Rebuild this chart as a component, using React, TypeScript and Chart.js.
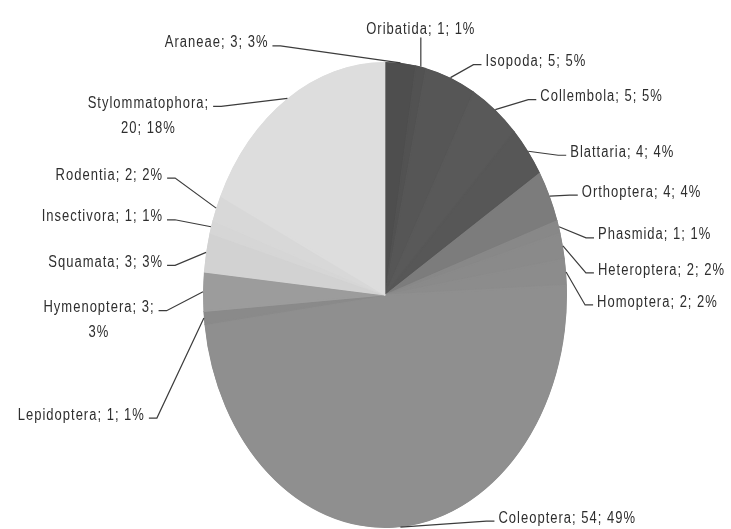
import React, { useEffect, useRef } from "react";
import { Chart, registerables } from "chart.js";

Chart.register(...registerables);

// ---- data ----
const categories = [
  "Araneae", "Oribatida", "Isopoda", "Collembola", "Blattaria", "Orthoptera",
  "Phasmida", "Heteroptera", "Homoptera", "Coleoptera", "Lepidoptera",
  "Hymenoptera", "Squamata", "Insectivora", "Rodentia", "Stylommatophora",
];
const counts = [3, 1, 5, 5, 4, 4, 1, 2, 2, 54, 1, 3, 3, 1, 2, 20];

// ---- styles ----
const sliceColors = [
  "#4e4e4e", "#525252", "#565656", "#595959", "#575757", "#7c7c7c",
  "#888888", "#8a8a8a", "#8c8c8c", "#8f8f8f", "#8a8a8a",
  "#9c9c9c", "#d2d2d2", "#d6d6d6", "#d8d8d8", "#dddddd",
];

// label placement relative to each slice's outer midpoint (page pixels)
const labelLayout: { dx: number; dy: number; align: CanvasTextAlign; wrap?: number }[] = [
  { dx: -132, dy: -20, align: "right" },
  { dx: 0, dy: -37, align: "center" },
  { dx: 35, dy: -16, align: "left" },
  { dx: 45, dy: -13, align: "left" },
  { dx: 42, dy: 1, align: "left" },
  { dx: 32, dy: -4, align: "left" },
  { dx: 39, dy: 8, align: "left" },
  { dx: 35, dy: 24, align: "left" },
  { dx: 31, dy: 30, align: "left" },
  { dx: 98, dy: -9, align: "left" },
  { dx: -59, dy: 97, align: "right" },
  { dx: -104, dy: 16, align: "center", wrap: 2 },
  { dx: -43, dy: 10, align: "right" },
  { dx: -48, dy: -10, align: "right" },
  { dx: -53, dy: -33, align: "right" },
  { dx: -139, dy: 5, align: "center", wrap: 1 },
];

const STRETCH = 1.28; // vertical stretch of the picture
const LINE_GAP = 25;

const total = counts.reduce((a, b) => a + b, 0);

const stretchPlugin = {
  id: "stretchPie",
  beforeDatasetsDraw(chart: any) {
    const el = chart.getDatasetMeta(0).data[0];
    const ctx = chart.ctx;
    ctx.save();
    ctx.translate(0, el.y);
    ctx.scale(1, STRETCH);
    ctx.translate(0, -el.y);
  },
  afterDatasetsDraw(chart: any) {
    chart.ctx.restore();
  },
  afterDraw(chart: any) {
    const ctx: CanvasRenderingContext2D = chart.ctx;
    const meta = chart.getDatasetMeta(0);
    ctx.save();
    ctx.font = '13px "Liberation Sans", Arial, sans-serif';
    (ctx as any).letterSpacing = "1px";
    ctx.fillStyle = "#2e2e2e";
    ctx.strokeStyle = "#3c3c3c";
    ctx.lineWidth = 1.2;
    meta.data.forEach((el: any, i: number) => {
      const mid = (el.startAngle + el.endAngle) / 2;
      const ex = el.x + el.outerRadius * Math.cos(mid);
      const ey = el.y + el.outerRadius * Math.sin(mid) * STRETCH;
      const L = labelLayout[i];
      const tx = ex + L.dx;
      const ty = ey + L.dy;
      const pct = Math.round((counts[i] / total) * 100);
      const parts = [categories[i], String(counts[i]), pct + "%"];
      const lines = L.wrap
        ? [parts.slice(0, L.wrap).join("; ") + ";", parts.slice(L.wrap).join("; ")]
        : [parts.join("; ")];

      lines.forEach((line, j) => {
        ctx.save();
        ctx.translate(tx, ty + j * LINE_GAP);
        ctx.scale(1, STRETCH);
        ctx.textAlign = L.align;
        ctx.textBaseline = "middle";
        ctx.fillText(line, 0, 0);
        ctx.restore();
      });

      // leader line
      ctx.beginPath();
      if (L.align === "center" && !L.wrap) {
        ctx.moveTo(ex, ty + 8);
        ctx.lineTo(ex, ey);
      } else {
        let Tx: number;
        if (L.align === "right") Tx = tx + 4;
        else if (L.align === "left") Tx = tx - 4;
        else {
          const w = ctx.measureText(lines[0]).width;
          Tx = ex > tx ? tx + w / 2 + 4 : tx - w / 2 - 4;
        }
        const Ty = ty + 3;
        const dir = ex > Tx ? 1 : -1;
        ctx.moveTo(Tx, Ty);
        ctx.lineTo(Tx + dir * 8, Ty);
        ctx.lineTo(ex, ey);
      }
      ctx.stroke();
    });
    ctx.restore();
  },
};

export default function App() {
  const ref = useRef<HTMLCanvasElement | null>(null);
  useEffect(() => {
    if (!ref.current) return;
    const chart = new Chart(ref.current, {
      type: "pie",
      data: {
        labels: categories,
        datasets: [
          {
            data: counts,
            backgroundColor: sliceColors,
            borderColor: sliceColors,
            borderWidth: 1,
            borderAlign: "inner",
          },
        ],
      },
      options: {
        responsive: false,
        animation: false,
        events: [],
        layout: { padding: { left: 203, right: 164, top: 113, bottom: 52 } },
        plugins: {
          legend: { display: false },
          tooltip: { enabled: false },
        },
      },
      plugins: [stretchPlugin],
    });
    return () => chart.destroy();
  }, []);
  return (
    <div style={{ position: "absolute", left: 0, top: 0, width: 731, height: 529, background: "#ffffff" }}>
      <canvas ref={ref} width={731} height={529} style={{ display: "block" }} />
    </div>
  );
}
